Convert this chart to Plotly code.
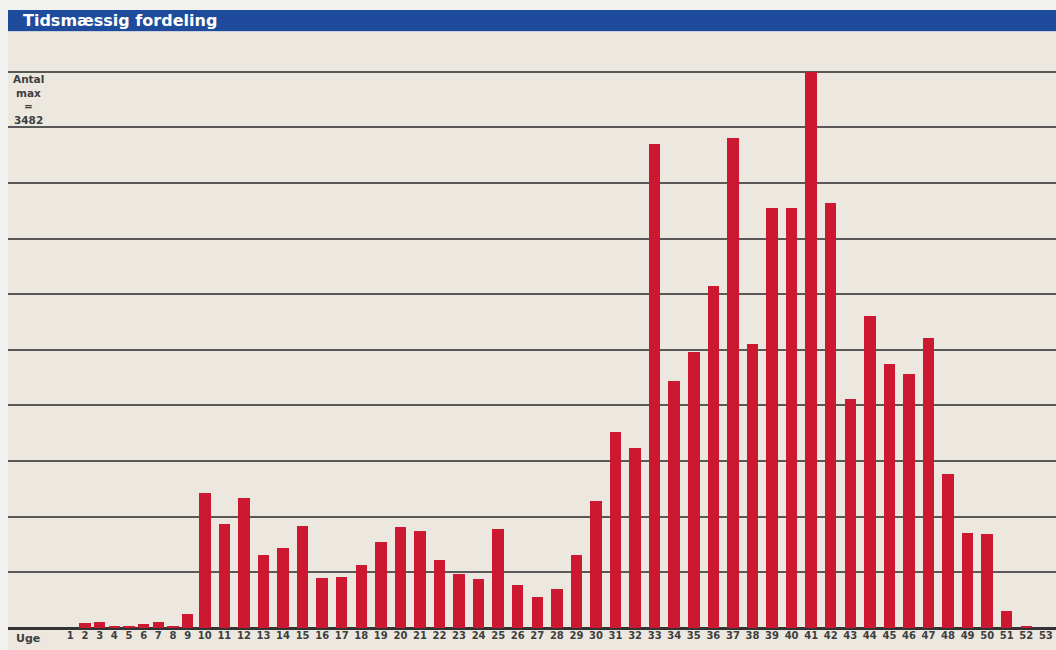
import plotly.graph_objects as go

# ---- data ----
weeks = [str(i) for i in range(1, 54)]
counts = [0, 31, 38, 14, 14, 27, 40, 12, 85, 847,
          653, 816, 459, 503, 640, 315, 321, 396, 540, 634,
          609, 428, 340, 309, 622, 271, 196, 246, 459, 792,
          1229, 1129, 3032, 1548, 1730, 2142, 3070, 1780, 2626, 2626,
          3482, 2663, 1436, 1955, 1653, 1590, 1817, 966, 597, 590,
          108, 8, 0]
title_text = "Tidsmæssig fordeling"
axis_label = "Uge"
max_label_lines = ["Antal", "max", "="]

# ---- layout constants (pixels) ----
W, H = 1056, 650
L, R, T, B = 8, 0, 32, 22
plot_w = W - L - R
plot_h = H - T - B
baseline_px = H - B
top_grid_px = 71.7

BEIGE = "#ECE8E0"
PALE = "#F1F1EF"
BLUE = "#1E4B9B"
RED = "#CD1831"
GRID = "#585858"
TXT = "#3E3E3E"
FONT = "DejaVu Sans"

# column widths follow label length (as in an HTML table row)
col_w = [len(w) + 2 for w in weeks]
centers = []
acc = 0
for w in col_w:
    centers.append(acc + w / 2)
    acc += w
unit_px = 4.89
x0 = centers[0] - (70.3 - L) / unit_px
x1 = x0 + plot_w / unit_px

ymax = max(counts)
y_top = ymax * (baseline_px - T) / (baseline_px - top_grid_px)


def px_x(p):
    return (p - L) / plot_w


def px_y(p):
    return (baseline_px - p) / plot_h


fig = go.Figure(go.Bar(
    x=centers, y=counts, width=2.35,
    marker=dict(color=RED, line=dict(width=0)),
    hoverinfo="skip",
))

shapes = [
    dict(type="rect", xref="paper", yref="paper", x0=px_x(0), x1=px_x(W),
         y0=px_y(10), y1=px_y(0), fillcolor=PALE, line=dict(width=0), layer="above"),
    dict(type="rect", xref="paper", yref="paper", x0=px_x(0), x1=px_x(L),
         y0=px_y(H), y1=px_y(0), fillcolor=PALE, line=dict(width=0), layer="above"),
    dict(type="rect", xref="paper", yref="paper", x0=px_x(L), x1=px_x(W),
         y0=px_y(31), y1=px_y(10), fillcolor=BLUE, line=dict(width=0), layer="above"),
    dict(type="rect", xref="paper", yref="paper", x0=px_x(L), x1=px_x(W),
         y0=px_y(32), y1=px_y(31), fillcolor="#C9CFDC", line=dict(width=0), layer="above"),
]

annotations = [
    dict(text="<b>" + title_text + "</b>", xref="paper", yref="paper",
         x=px_x(21), y=px_y(21), xanchor="left", yanchor="middle", showarrow=False,
         font=dict(family=FONT, size=16, color="white")),
    dict(text="<b>" + axis_label + "</b>", xref="paper", yref="paper",
         x=px_x(28), y=px_y(638), xanchor="center", yanchor="middle", showarrow=False,
         font=dict(family=FONT, size=11, color=TXT)),
]
lines = max_label_lines + [str(ymax)]
for i, ln in enumerate(lines):
    annotations.append(dict(
        text="<b>" + ln + "</b>", xref="paper", yref="paper",
        x=px_x(28), y=px_y(79 + i * 13.7), xanchor="center", yanchor="middle",
        showarrow=False, font=dict(family=FONT, size=10.5, color=TXT)))

fig.update_layout(
    width=W, height=H, autosize=False,
    margin=dict(l=L, r=R, t=T, b=B, pad=0),
    paper_bgcolor=BEIGE, plot_bgcolor=BEIGE,
    showlegend=False, bargap=0,
    shapes=shapes, annotations=annotations,
    xaxis=dict(range=[x0, x1], tickmode="array", tickvals=centers, ticktext=weeks,
               showgrid=False, zeroline=False, showline=False, ticks="",
               tickfont=dict(family=FONT, size=10, color=TXT, weight="bold"),
               fixedrange=True),
    yaxis=dict(range=[0, y_top], tick0=0, dtick=ymax / 10, showticklabels=False,
               showgrid=True, gridcolor=GRID, gridwidth=2,
               zeroline=True, zerolinecolor="#333333", zerolinewidth=3,
               ticks="", fixedrange=True),
)

fig.write_html("out.html", config={"displayModeBar": False})
